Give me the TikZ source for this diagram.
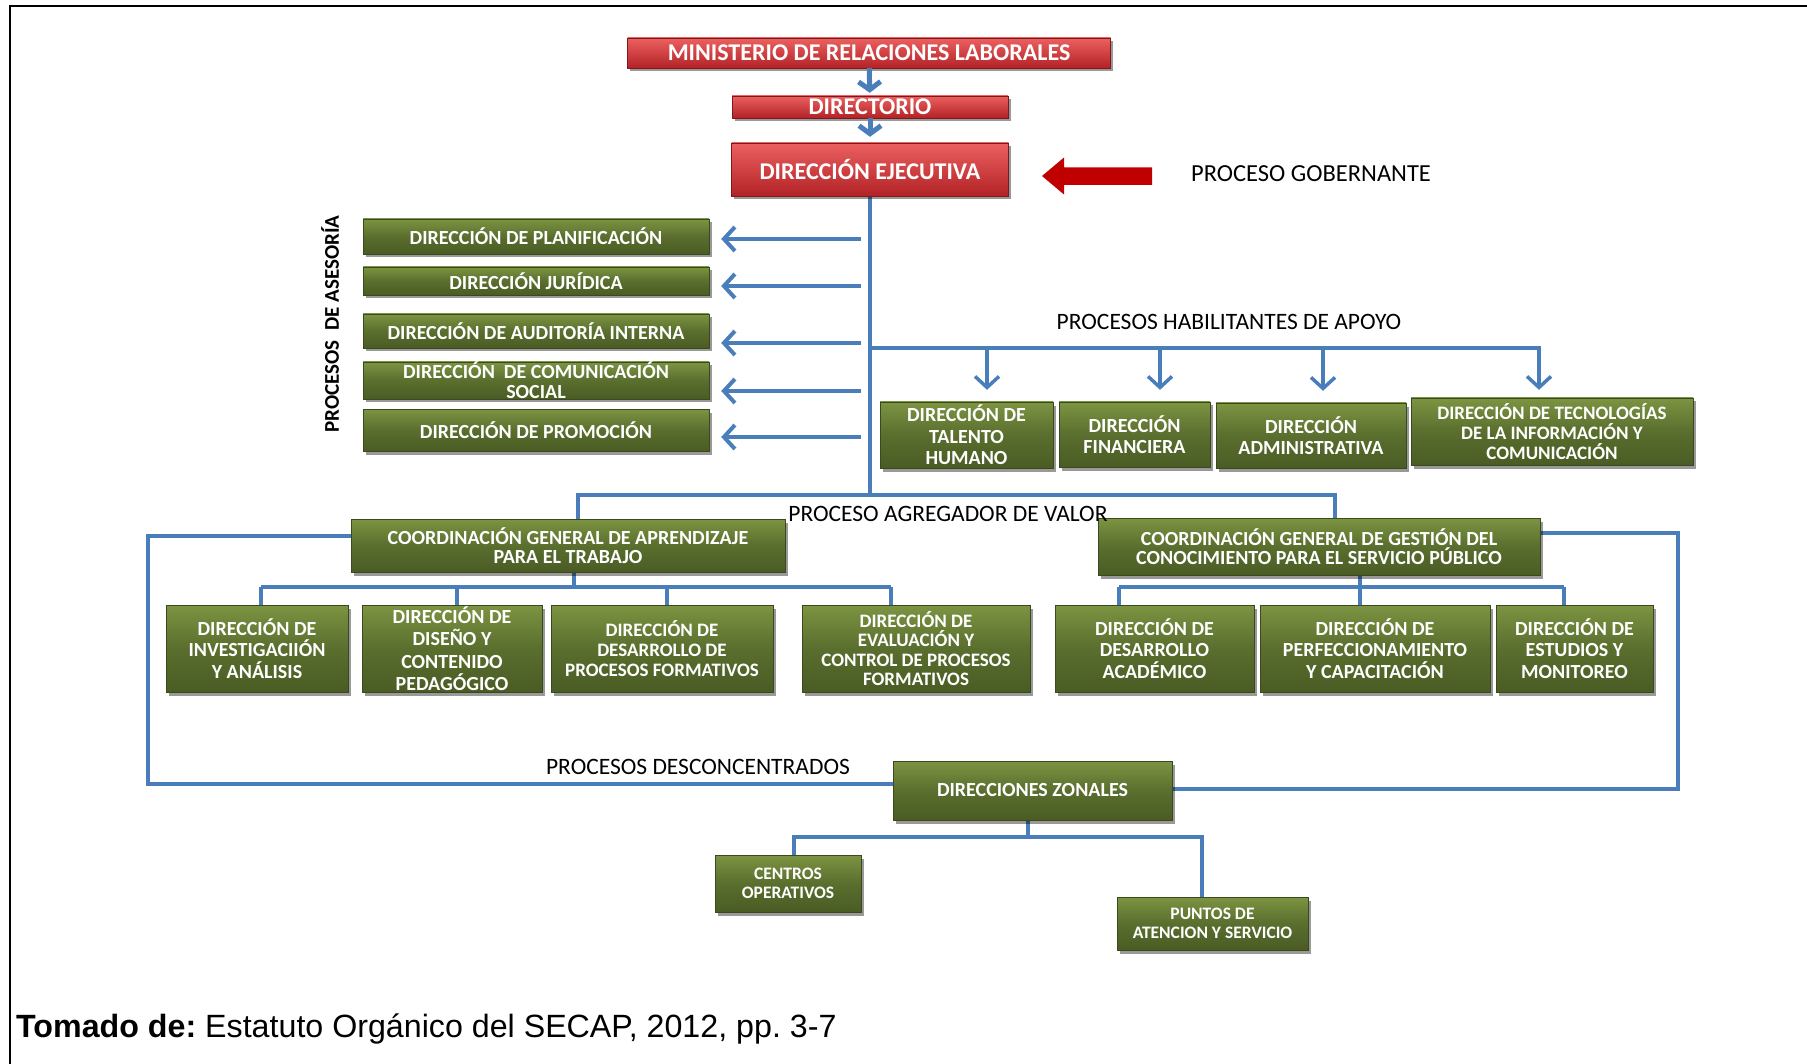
\documentclass[tikz,border=0pt]{standalone}
\usepackage{fontspec}
\setmainfont{Carlito}
\newfontfamily\arialfont{Liberation Sans}
\usetikzlibrary{arrows.meta,shadows,calc}
\pgfdeclarelayer{bg}
\pgfsetlayers{bg,main}
\frenchspacing

\definecolor{linkblue}{RGB}{74,126,187}
\definecolor{redtop}{RGB}{236,96,96}
\definecolor{redbot}{RGB}{178,34,38}
\definecolor{govred}{RGB}{192,0,0}
\definecolor{grntop}{RGB}{124,148,66}
\definecolor{grnmid}{RGB}{90,110,46}
\definecolor{grnbot}{RGB}{74,92,36}

\tikzset{
  sz/.style 2 args={minimum width=#1pt, minimum height=#2pt},
  box/.style={inner sep=0pt, align=center, text=white,
    drop shadow={shadow xshift=2.5pt, shadow yshift=-3.5pt, opacity=.4, fill=black}},
  redbox/.style={box, draw=redbot!70!black, top color=redtop, bottom color=redbot,
    font=\bfseries\fontsize{24}{26}\selectfont},
  grnbox/.style={box, draw=grnbot!80!black, top color=grntop, bottom color=grnbot,
    middle color=grnmid, font=\bfseries\fontsize{20}{21.5}\selectfont},
  f19/.style={font=\bfseries\fontsize{19}{20}\selectfont},
  f17/.style={font=\bfseries\fontsize{17.5}{19.5}\selectfont},
  lbl/.style={inner sep=0pt, font=\fontsize{23.5}{26}\selectfont},
  link/.style={draw=linkblue, line width=3.5pt},
  toparrow/.style={link, line width=5pt, ->, >={Straight Barb[length=8pt, width=22pt]}},
  asarrow/.style={link, line width=4pt, ->, >={Straight Barb[length=11pt, width=24pt]}},
  habarrow/.style={link, ->, >={Straight Barb[length=11pt, width=24pt]}}
}

\begin{document}
\begin{tikzpicture}[x=1pt, y=-1pt]
\useasboundingbox (0,0) rectangle (1807,1064);
\draw[line width=2.5pt] (10,1064) -- (10,6) -- (1807,6);

% proceso gobernante
\node[redbox, sz={483}{30}] (mrl) at (869,53) {MINISTERIO DE RELACIONES LABORALES};
\node[redbox, sz={276}{22}] (dir) at (870,107) {DIRECTORIO};
\node[redbox, sz={277}{53}] (dej) at (870,169.5) {DIRECCIÓN EJECUTIVA};
\draw[toparrow, shorten >=3pt] (mrl) -- (dir);
\draw[toparrow, shorten >=6pt] (dir) -- (dej);
\fill[govred] (1042,176) -- (1064,157.5) -- (1064,167.5) -- (1152,167.5)
  -- (1152,185) -- (1064,185) -- (1064,194.5) -- cycle;
\node[lbl, anchor=west, font=\fontsize{24.5}{26}\selectfont] (gob) at (1191,174) {PROCESO GOBERNANTE};

% asesoria
\node[grnbox, sz={346}{35}] (dpl) at (536,236.5) {DIRECCIÓN DE PLANIFICACIÓN};
\node[grnbox, sz={346}{28}] (djur) at (536,281) {DIRECCIÓN JURÍDICA};
\node[grnbox, sz={346}{34}] (daud) at (536,331) {DIRECCIÓN DE AUDITORÍA INTERNA};
\node[grnbox, sz={346}{37}, font=\bfseries\fontsize{20}{20}\selectfont] (dcom) at (536,380.5) {DIRECCIÓN\ \ DE COMUNICACIÓN\\SOCIAL};
\node[grnbox, sz={346}{42}] (dprom) at (536,430) {DIRECCIÓN DE PROMOCIÓN};
\node[inner sep=0pt, rotate=90, font=\bfseries\fontsize{21}{24}\selectfont] (ase) at (330,324) {PROCESOS\ \ DE ASESORÍA};
\foreach \yy/\nn in {239/dpl, 286/djur, 343/daud, 391/dcom, 437/dprom} {
  \coordinate (t) at (861,\yy);
  \draw[asarrow, shorten >=12pt] (t) -- (t -| \nn.east);
}

% apoyo
\node[grnbox, sz={173}{66}] (dth) at (966.5,435) {DIRECCIÓN DE\\TALENTO\\HUMANO};
\node[grnbox, sz={151}{65}] (dfin) at (1134.5,434.5) {DIRECCIÓN\\FINANCIERA};
\node[grnbox, sz={190}{65}] (dadm) at (1311,435.5) {DIRECCIÓN\\ADMINISTRATIVA};
\node[grnbox, f19, sz={282}{67}] (dtic) at (1552,431.5) {DIRECCIÓN DE TECNOLOGÍAS\\DE LA INFORMACIÓN Y\\COMUNICACIÓN};
\node[lbl] (hab) at (1229,322) {PROCESOS HABILITANTES DE APOYO};
\coordinate (hb) at (870,348);
\coordinate (h4) at (1539,348);
\draw[habarrow, shorten >=8pt] (hb) -| (h4 |- dtic.north);
\foreach \xx/\nn in {987/dth, 1160/dfin, 1323/dadm} {
  \coordinate (t) at (\xx,348);
  \draw[habarrow, shorten >=12pt] (t) -- (t |- \nn.north);
}

% agregador de valor
\node[grnbox, sz={434}{53}, font=\bfseries\fontsize{20}{18.5}\selectfont] (cga) at (568,545.5) {COORDINACIÓN GENERAL DE APRENDIZAJE\\PARA EL TRABAJO};
\node[grnbox, sz={442}{57}, font=\bfseries\fontsize{20}{18.5}\selectfont] (cgg) at (1319,546.5) {COORDINACIÓN GENERAL DE GESTIÓN DEL\\CONOCIMIENTO PARA EL SERVICIO PÚBLICO};
\node[lbl] (agr) at (948,514) {PROCESO AGREGADOR DE VALOR};

\node[grnbox, sz={182}{87}] (dinv) at (257,648.5) {DIRECCIÓN DE\\INVESTIGACIIÓN\\Y ANÁLISIS};
\node[grnbox, sz={180}{87}, font=\bfseries\fontsize{20}{22.5}\selectfont] (ddis) at (452,648.5) {DIRECCIÓN DE\\DISEÑO Y\\CONTENIDO\\PEDAGÓGICO};
\node[grnbox, f19, sz={222}{87}] (ddes) at (662,648.5) {DIRECCIÓN DE\\DESARROLLO DE\\PROCESOS FORMATIVOS};
\node[grnbox, font=\bfseries\fontsize{19}{19.5}\selectfont, sz={228}{87}] (deva) at (916,648.5) {DIRECCIÓN DE\\EVALUACIÓN Y\\CONTROL DE PROCESOS\\FORMATIVOS};

\node[grnbox, sz={199}{87}] (dacad) at (1154.5,648.5) {DIRECCIÓN DE\\DESARROLLO\\ACADÉMICO};
\node[grnbox, sz={230}{87}] (dperf) at (1375,648.5) {DIRECCIÓN DE\\PERFECCIONAMIENTO\\Y CAPACITACIÓN};
\node[grnbox, sz={157}{87}] (dest) at (1574.5,648.5) {DIRECCIÓN DE\\ESTUDIOS Y\\MONITOREO};

% desconcentrados
\node[grnbox, sz={279}{59}] (dzon) at (1032.5,790.5) {DIRECCIONES ZONALES};
\node[grnbox, f17, sz={146}{57}] (dcen) at (788,883.5) {CENTROS\\OPERATIVOS};
\node[grnbox, f17, sz={191}{53}] (dpun) at (1212.5,923.5) {PUNTOS DE\\ATENCION Y SERVICIO};
\node[lbl] (desc) at (698,767) {PROCESOS DESCONCENTRADOS};

\begin{pgfonlayer}{bg}
\coordinate (bl) at (578,495);
\coordinate (brr) at (1335,495);
\draw[link] (dej.south) -- (dej.south |- bl);
\draw[link] (bl |- cga.north) -- (bl) -- (brr) -- (brr |- cgg.north);

\coordinate (la) at (574,587);
\draw[link] (cga.south -| la) -- (la);
\draw[link] (261,587) -- (891,587);
\foreach \xx/\nn in {261/dinv, 457/ddis, 667/ddes, 891/deva} {
  \coordinate (t) at (\xx,587);
  \draw[link] (t) -- (t |- \nn.north);
}
\coordinate (ra) at (1360,587);
\draw[link] (cgg.south -| ra) -- (ra);
\draw[link] (1119,587) -- (1564,587);
\foreach \xx/\nn in {1119/dacad, 1360/dperf, 1564/dest} {
  \coordinate (t) at (\xx,587);
  \draw[link] (t) -- (t |- \nn.north);
}

\coordinate (lp1) at (148,536);
\coordinate (lp2) at (148,784);
\draw[link] (cga.west |- lp1) -- (lp1) -- (lp2) -- (dzon.west |- lp2);
\coordinate (rp1) at (1678,533);
\coordinate (rp2) at (1678,789);
\draw[link] (cgg.east |- rp1) -- (rp1) -- (rp2) -- (dzon.east |- rp2);

\coordinate (zz) at (1028,837);
\coordinate (z1) at (794,837);
\coordinate (z2) at (1202,837);
\draw[link] (dzon.south -| zz) -- (zz);
\draw[link] (z1 |- dcen.north) -- (z1) -- (z2) -- (z2 |- dpun.north);
\end{pgfonlayer}

\node[anchor=west, inner sep=0pt, font=\arialfont\fontsize{32.2}{36}\selectfont] (src) at (16,1029) {\textbf{Tomado de:} Estatuto Orgánico del SECAP, 2012, pp. 3-7};
\end{tikzpicture}
\end{document}
